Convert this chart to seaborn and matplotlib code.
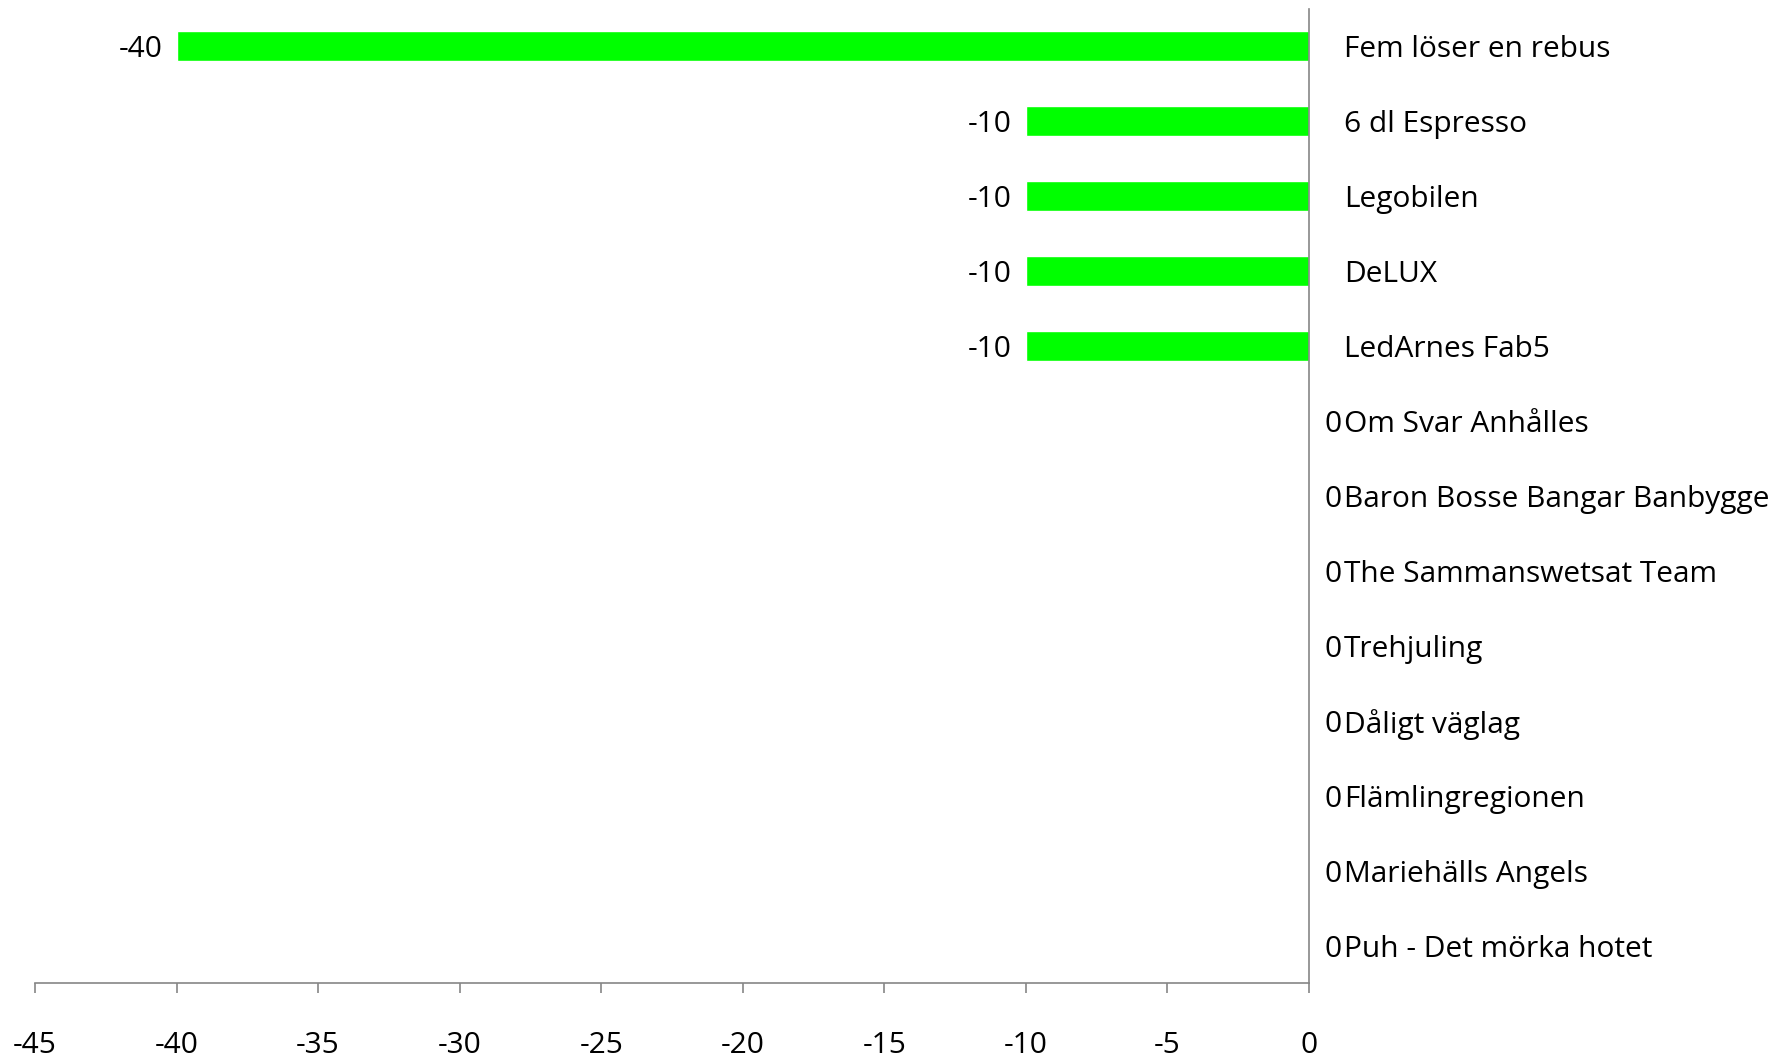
import matplotlib
matplotlib.use("Agg")
import matplotlib.pyplot as plt
import seaborn as sns
import pandas as pd

teams = [
    "Fem löser en rebus",
    "6 dl Espresso",
    "Legobilen",
    "DeLUX",
    "LedArnes Fab5",
    "Om Svar Anhålles",
    "Baron Bosse Bangar Banbygge",
    "The Sammanswetsat Team",
    "Trehjuling",
    "Dåligt väglag",
    "Flämlingregionen",
    "Mariehälls Angels",
    "Puh - Det mörka hotet",
]
points = [-40, -10, -10, -10, -10, 0, 0, 0, 0, 0, 0, 0, 0]
x_ticks = [-45, -40, -35, -30, -25, -20, -15, -10, -5, 0]

df = pd.DataFrame({"team": teams, "points": points})

sns.set_style("white")
plt.rcParams["font.family"] = ["Open Sans", "DejaVu Sans"]
FS = 21.5

fig = plt.figure(figsize=(17.86, 10.57), dpi=100)
ax = fig.add_axes([35 / 1786, 1 - 983 / 1057, (1309 - 35) / 1786, (983 - 9) / 1057])

sns.barplot(data=df, y="team", x="points", orient="h", color="#00FF00",
            width=0.4, saturation=1, ax=ax, order=teams)

ax.set_xlim(-45, 0)
ax.set_ylim(len(teams) - 0.5, -0.5)
ax.set_xticks(x_ticks)
ax.set_xticklabels([str(t) for t in x_ticks])
ax.set_xlabel("")
ax.set_ylabel("")

axis_col = "#868686"
for s in ["top", "left"]:
    ax.spines[s].set_visible(False)
for s in ["bottom", "right"]:
    ax.spines[s].set_visible(True)
    ax.spines[s].set_color(axis_col)
    ax.spines[s].set_linewidth(1.2)

ax.yaxis.tick_right()
ax.tick_params(axis="y", length=0, pad=25, labelsize=FS, labelcolor="black")
for lab in ax.get_yticklabels():
    lab.set_horizontalalignment("left")
ax.tick_params(axis="x", direction="out", length=7.5, width=1.2, color=axis_col,
               pad=27, labelsize=FS, labelcolor="black", bottom=True)

for i, v in enumerate(points):
    if v < 0:
        ax.annotate(str(v), xy=(v, i), xytext=(-10, 0), textcoords="offset points",
                    ha="right", va="center_baseline", fontsize=FS, color="black")
    else:
        ax.annotate(str(v), xy=(v, i), xytext=(11, 0), textcoords="offset points",
                    ha="left", va="center_baseline", fontsize=FS, color="black")

fig.savefig("out.png", dpi=100, facecolor="white")
